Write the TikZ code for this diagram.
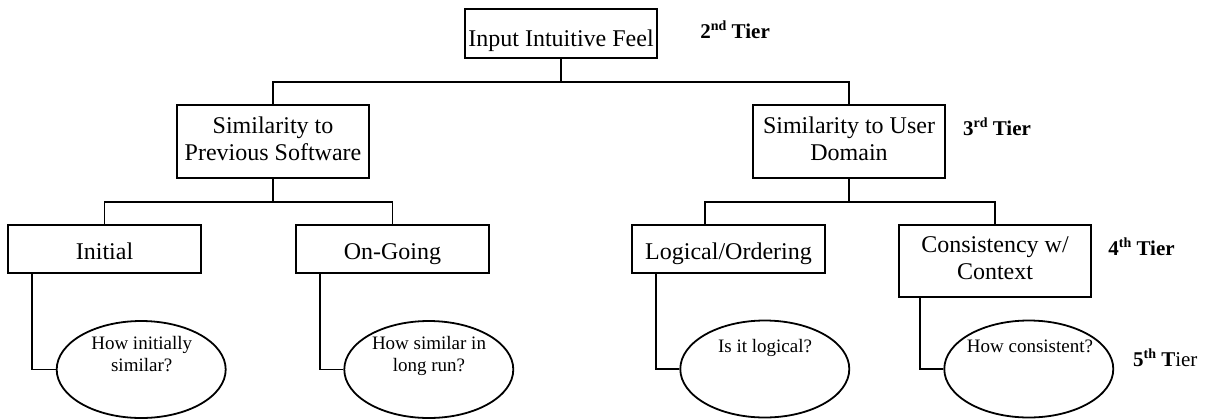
\documentclass[tikz,border=0pt]{standalone}
\usepackage{fontspec}
\setmainfont{Liberation Serif}
\usetikzlibrary{shapes.geometric,calc}

% small raised ordinal suffix for the tier labels
\newcommand\tiersup[1]{\raisebox{3.6pt}{\fontsize{7}{7}\selectfont #1}}

\begin{document}
\begin{tikzpicture}[x=0.5pt,y=-0.5pt,
  wire/.style={line width=0.9pt},
  boxnode/.style={draw, line width=0.9pt, rectangle, inner sep=0pt, align=center,
    font=\fontsize{12}{13.8}\selectfont, minimum width=96pt,
    execute at begin node={\rule{0pt}{13.3pt}},
    execute at end node={\rule[-3pt]{0pt}{3pt}}},
  bubble/.style={draw, ellipse, line width=0.9pt, inner sep=0pt,
    minimum width=84.5pt, minimum height=48.5pt},
  bubtext/.style={anchor=north, inner sep=0pt, align=center,
    font=\fontsize{9.5}{11}\selectfont,
    execute at begin node={\rule{0pt}{8pt}}},
  tier/.style={anchor=base west, inner sep=0pt, font=\fontsize{10.5}{12}\selectfont}
]
\fill[white] (0,0) rectangle (1207,419);
\useasboundingbox (0,0) rectangle (1207,419);

% boxes
\node[boxnode, minimum height=24.25pt, execute at begin node={\rule{0pt}{16pt}}] (root) at (561,33.5) {Input Intuitive Feel};
\node[boxnode, minimum height=36.5pt] (simsw) at (273,141.5) {Similarity to\\Previous Software};
\node[boxnode, minimum height=36.5pt] (simdom) at (849,141.5) {Similarity to User\\Domain};
\node[boxnode, minimum width=96.5pt, minimum height=24pt] (init) at (104.5,249) {Initial};
\node[boxnode, minimum width=96.5pt, minimum height=24pt] (ongo) at (392.5,249) {On-Going};
\node[boxnode, minimum width=96.5pt, minimum height=24pt] (logic) at (728.5,249) {Logical/Ordering};
\node[boxnode, minimum height=36pt] (consist) at (995,261.2) {Consistency w/\\Context};

% question bubbles
\node[bubble] (qinit) at (141.2,369.5) {};
\node[bubble] (qlong) at (428.8,369.5) {};
\node[bubble] (qlogic) at (764.8,369) {};
\node[bubble] (qcons) at (1028.8,369) {};
\node[bubtext] (tinit) at (141.7,336) {How initially\\similar?};
\node[bubtext] (tlong) at (429,336) {How similar in\\long run?};
\node[bubtext] (tlogic) at (765,336) {Is it logical?};
\node[bubtext] (tcons) at (1030,336) {How consistent?};

% tier labels
\node[tier] (tier2) at (700,38) {\textbf{2\tiersup{nd} Tier}};
\node[tier] (tier3) at (962.7,135) {\textbf{3\tiersup{rd} Tier}};
\node[tier] (tier4) at (1108,255) {\textbf{4\tiersup{th} Tier}};
\node[tier] (tier5) at (1132.7,366) {\textbf{5\tiersup{th} T}ier};

% tree connectors
\coordinate (hub1) at (561,81.7);
\coordinate (hub2) at (273,201.7);
\coordinate (hub3) at (849,201.7);
\coordinate (drop) at (705,201.7);
\draw[wire] (root.south) -- (hub1);
\draw[wire] (simsw.north) |- (hub1) -| (simdom.north);
\draw[wire] (simsw.south) -- (hub2);
\draw[wire] (init.north) |- (hub2) -| (ongo.north);
\draw[wire] (simdom.south) -- (hub3);
\draw[wire] (drop |- logic.north) -- (drop) -| (consist.north);

% legs down to the bubbles
\draw[wire] ($(init.south west)+(25,0)$) |- (qinit.west);
\draw[wire] ($(ongo.south west)+(25,0)$) |- (qlong.west);
\draw[wire] ($(logic.south west)+(25,0)$) |- (qlogic.west);
\draw[wire] ($(consist.south west)+(22,0)$) |- (qcons.west);
\end{tikzpicture}
\end{document}
